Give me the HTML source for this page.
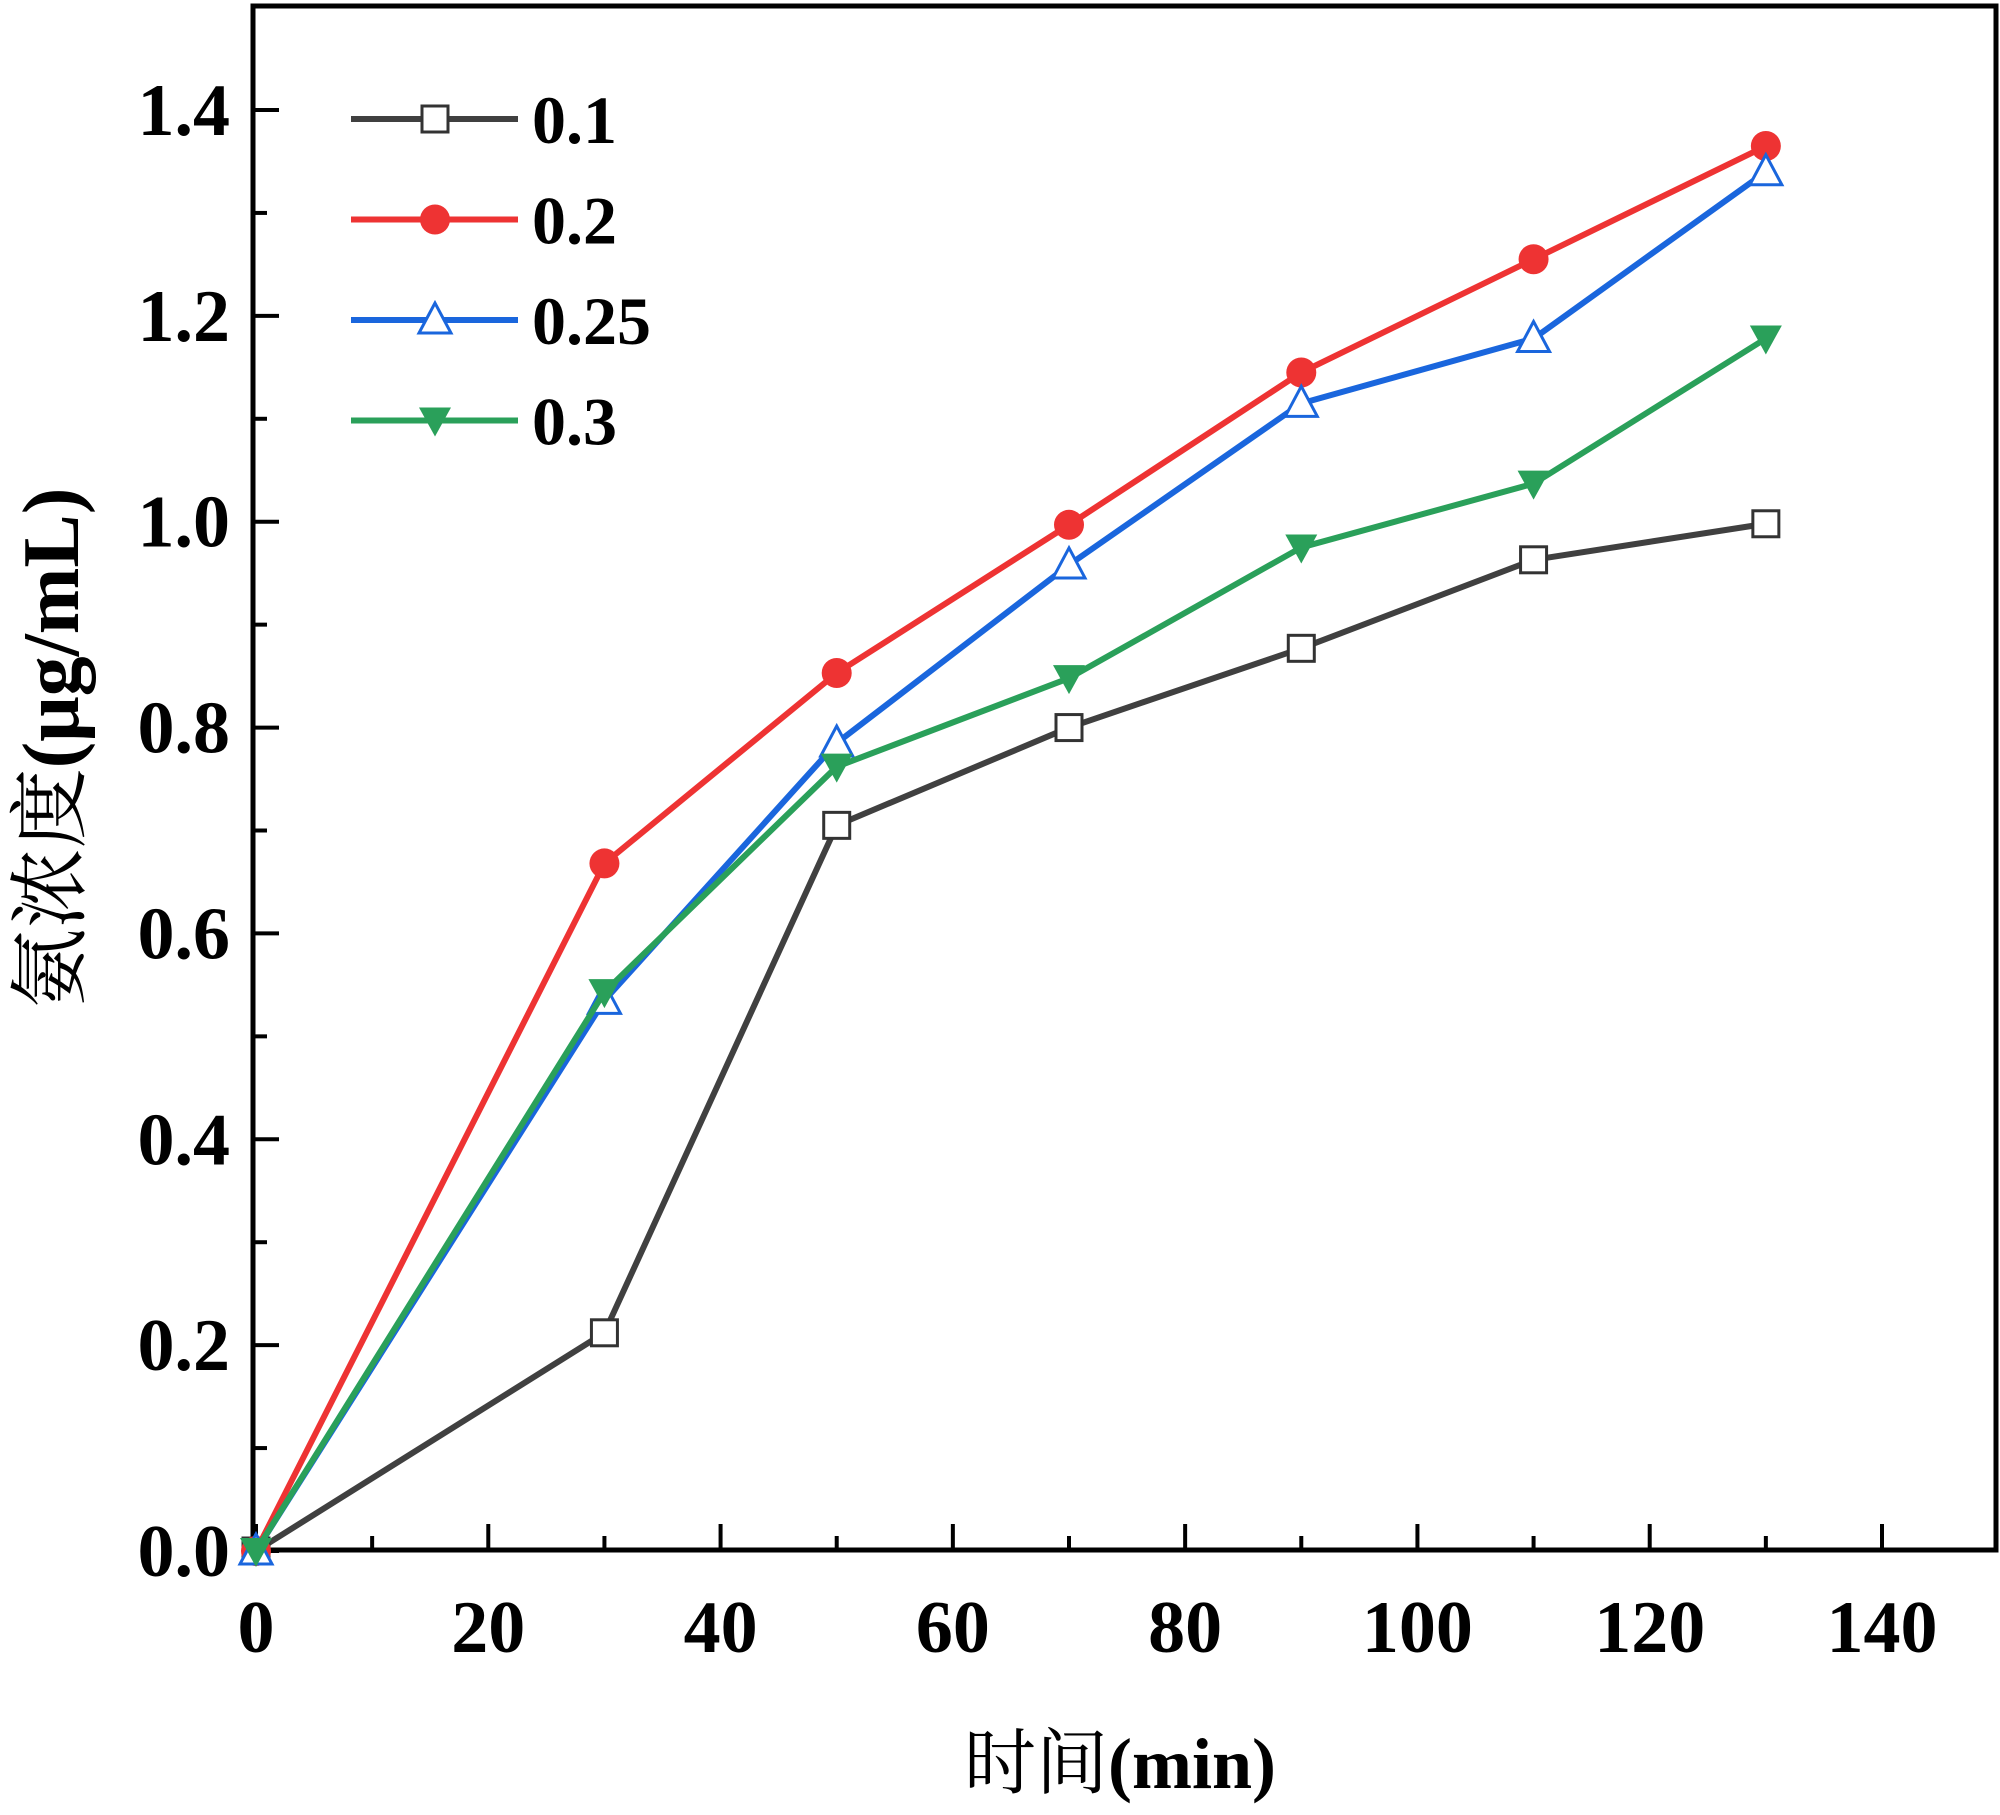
<!DOCTYPE html>
<html><head><meta charset="utf-8"><style>
html,body{margin:0;padding:0;background:#fff;}
svg text{font-family:"Liberation Serif","Noto Serif CJK SC",serif;font-weight:bold;}
</style></head><body>
<svg id="chart" width="2000" height="1810" viewBox="0 0 2000 1810" xmlns="http://www.w3.org/2000/svg"></svg>
<script>
const xValues=[0,30,50,70,90,110,130];
const s01=[0,0.212,0.705,0.80,0.877,0.963,0.998];
const s02=[0,0.668,0.853,0.997,1.145,1.255,1.365];
const s025=[0,0.535,0.785,0.958,1.115,1.178,1.34];
const s03=[0,0.543,0.762,0.848,0.975,1.037,1.178];
const seriesNames=['0.1','0.2','0.25','0.3'];
const xTicks=[0,20,40,60,80,100,120,140];
const yTicks=['0.0','0.2','0.4','0.6','0.8','1.0','1.2','1.4'];
const NS='http://www.w3.org/2000/svg';
const svg=document.getElementById('chart');
const L=253,T=6,R=1996,B=1550;
const X=v=>256+(v/140)*(1882-256);
const Y=v=>1551-(v/1.4)*(1551-110);
function mk(t,a,p){const e=document.createElementNS(NS,t);for(const k in a)e.setAttribute(k,a[k]);(p||svg).appendChild(e);return e;}
const fr=mk('rect',{x:L,y:T,width:R-L,height:B-T,fill:'none',stroke:'#000','stroke-width':5});


for(let v=0;v<=140;v+=10){const major=v%20===0;const l=mk('line',{x1:X(v),x2:X(v),y1:B,y2:B-(major?26:14),stroke:'#000','stroke-width':4});

}
xTicks.forEach(v=>{const t=mk('text',{x:X(v),y:1652,'font-size':74,'text-anchor':'middle'});t.textContent=v;

});
for(let i=0;i<=14;i++){const v=i*0.1;const major=i%2===0;const l=mk('line',{x1:L,x2:L+(major?26:14),y1:Y(v),y2:Y(v),stroke:'#000','stroke-width':4});

}
yTicks.forEach(s=>{const t=mk('text',{x:230,y:Y(parseFloat(s))+25,'font-size':74,'text-anchor':'end'});t.textContent=s;

});
const xt=mk('text',{x:1120,y:1788,'font-size':72,'text-anchor':'middle'});
xt.innerHTML='<tspan font-weight="normal">时间</tspan>(min)';


const yt=mk('text',{x:0,y:0,'font-size':80,'text-anchor':'middle',transform:'translate(78,748) rotate(-90)'});
yt.innerHTML='<tspan font-weight="normal">氨浓度</tspan>(μg/mL)';


function marker(kind,cx,cy,color,p){
 if(kind==='square')return mk('rect',{x:cx-13,y:cy-13,width:26,height:26,fill:'#fff',stroke:'#333','stroke-width':3},p);
 if(kind==='circle')return mk('circle',{cx:cx,cy:cy,r:15,fill:color},p);
 if(kind==='up')return mk('polygon',{points:`${cx},${cy-17} ${cx-16},${cy+13} ${cx+16},${cy+13}`,fill:'#fff',stroke:color,'stroke-width':3},p);
 return mk('polygon',{points:`${cx},${cy+16} ${cx-16},${cy-13} ${cx+16},${cy-13}`,fill:color},p);
}
const all=[[s01,'#404040','square'],[s02,'#ee3333','circle'],[s025,'#1a66dd','up'],[s03,'#2aa05a','down']];
all.forEach((s,i)=>{
 const g=mk('g',{});
 
 
 const pts=xValues.map((x,j)=>X(x)+','+Y(s[0][j])).join(' ');
 mk('polyline',{points:pts,fill:'none',stroke:s[1],'stroke-width':6,'stroke-linejoin':'round'},g);
 xValues.forEach((x,j)=>{const m=marker(s[2],X(x),Y(s[0][j]),s[1],g);
 
 });
 const ly=119+i*100.5;
 const lg=mk('g',{});
 
 
 mk('line',{x1:351,x2:518,y1:ly,y2:ly,stroke:s[1],'stroke-width':6},lg);
 marker(s[2],435,ly,s[1],lg);
 const t=mk('text',{x:532,y:ly+24,'font-size':68},lg);t.textContent=seriesNames[i];
});
</script>
</body></html>
